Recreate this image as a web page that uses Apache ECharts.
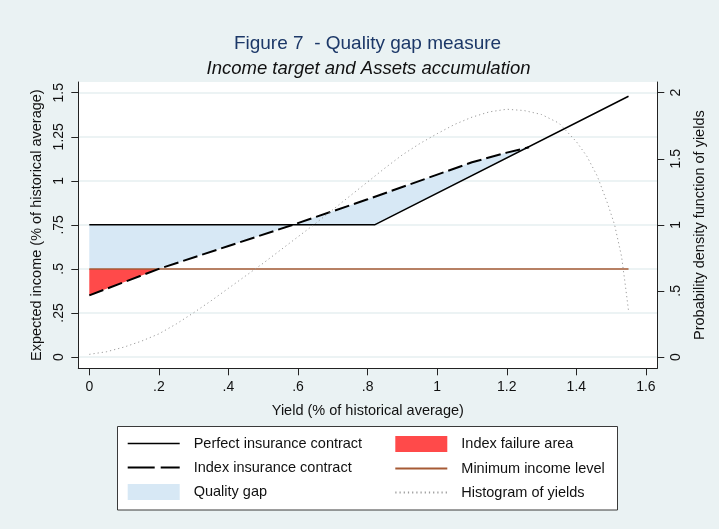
<!DOCTYPE html>
<html>
<head>
<meta charset="utf-8">
<script src="https://cdn.jsdelivr.net/npm/echarts@6/dist/echarts.min.js"></script>
<style>
html,body{margin:0;padding:0;background:#eaf2f3;}
#chart{width:719px;height:529px;}
</style>
</head>
<body>
<div id="chart"></div>
<script>
// ---------------- data ----------------
const perfectX = [0, 0.82, 1.55];
const perfectY = [0.75, 0.75, 1.48];

const indexX = [0, 0.2, 0.4, 0.585, 0.8, 1.0, 1.1, 1.2, 1.264];
const indexY = [0.35, 0.5, 0.63, 0.75, 0.895, 1.035, 1.105, 1.16, 1.19];

const minIncomeX = [0, 1.55];
const minIncomeY = [0.5, 0.5];

const histX = [0, 0.05, 0.1, 0.15, 0.2, 0.25, 0.3, 0.35, 0.4, 0.45, 0.5, 0.55, 0.6, 0.65, 0.7, 0.75,
  0.8, 0.85, 0.9, 0.95, 1.0, 1.05, 1.1, 1.15, 1.2, 1.25, 1.3, 1.35, 1.4, 1.43, 1.46, 1.49, 1.51, 1.53, 1.54, 1.55];
const histY = [0.02, 0.04, 0.075, 0.12, 0.175, 0.25, 0.335, 0.425, 0.52, 0.615, 0.71, 0.81, 0.91, 1.01, 1.115, 1.22,
  1.325, 1.43, 1.53, 1.615, 1.69, 1.76, 1.815, 1.855, 1.875, 1.865, 1.835, 1.77, 1.63, 1.52, 1.37, 1.16, 1.0, 0.76, 0.56, 0.35];

const xTicks = [0, 0.2, 0.4, 0.6, 0.8, 1, 1.2, 1.4, 1.6];
const xTickLabels = ['0', '.2', '.4', '.6', '.8', '1', '1.2', '1.4', '1.6'];
const yLeftTicks = [0, 0.25, 0.5, 0.75, 1, 1.25, 1.5];
const yLeftTickLabels = ['0', '.25', '.5', '.75', '1', '1.25', '1.5'];
const yRightTicks = [0, 0.5, 1, 1.5, 2];
const yRightTickLabels = ['0', '.5', '1', '1.5', '2'];

// ---------------- helpers ----------------
function interp(xs, ys, x) {
  if (x <= xs[0]) return ys[0];
  for (let i = 1; i < xs.length; i++) {
    if (x <= xs[i]) {
      const t = (x - xs[i - 1]) / (xs[i] - xs[i - 1]);
      return ys[i - 1] + t * (ys[i] - ys[i - 1]);
    }
  }
  return ys[ys.length - 1];
}
const fPerfect = x => interp(perfectX, perfectY, x);
const fIndex = x => interp(indexX, indexY, x);
const minLevel = minIncomeY[0];
const xEnd = indexX[indexX.length - 1];
const breaks = Array.from(new Set(indexX.concat(perfectX.filter(x => x <= xEnd)))).sort((a, b) => a - b);

function band(upperFn, lowerFn) {
  const up = breaks.map(x => [x, upperFn(x)]);
  const lo = breaks.slice().reverse().map(x => [x, lowerFn(x)]);
  return up.concat(lo);
}
// quality gap: between perfect and index, above minimum income level
const gapPoly = band(
  x => Math.max(fPerfect(x), fIndex(x)),
  x => Math.max(Math.min(fPerfect(x), fIndex(x)), minLevel)
);
// index failure: index below minimum income level
const failPoly = band(
  x => minLevel,
  x => Math.min(fIndex(x), minLevel)
);

const FONT = "'Liberation Sans', Arial, sans-serif";
const gapColor = '#d7e8f5';
const failColor = '#ff4a4a';
const minColor = '#a65a35';
const histColor = '#9c9c9c';

const chart = echarts.init(document.getElementById('chart'), null, {renderer: 'canvas'});

function lookup(ticks, labels) {
  return v => {
    for (let i = 0; i < ticks.length; i++) if (Math.abs(ticks[i] - v) < 1e-9) return labels[i];
    return '';
  };
}

const legendText = {fontSize: 14.5, color: '#111', fontFamily: FONT, padding: [0, 0, 0, 9]};
const noSymbol = {opacity: 0};

const option = {
  animation: false,
  backgroundColor: '#eaf2f3',
  textStyle: {fontFamily: FONT},
  title: [
    {
      text: 'Figure 7  - Quality gap measure',
      left: 362.5, top: 29, textAlign: 'center',
      textStyle: {fontSize: 19, fontWeight: 'normal', color: '#1c3868', fontFamily: FONT}
    },
    {
      text: 'Income target and Assets accumulation',
      left: 363.5, top: 54, textAlign: 'center',
      textStyle: {fontSize: 18.5, fontWeight: 'normal', fontStyle: 'italic', color: '#111', fontFamily: FONT}
    }
  ],
  grid: {
    left: 78.3, right: 61.7, top: 82, bottom: 160.7,
    show: true, backgroundColor: '#ffffff', borderWidth: 0
  },
  graphic: [
    {
      type: 'rect', z: 0,
      shape: {x: 117.5, y: 426.5, width: 500, height: 83.5},
      style: {fill: '#ffffff', stroke: '#3a3a3a', lineWidth: 1}
    }
  ],
  legend: [
    {
      orient: 'vertical', left: 121.7, top: 431, z: 5,
      itemWidth: 52, itemHeight: 16, itemGap: 9, selectedMode: false,
      textStyle: legendText,
      data: [
        {name: 'Perfect insurance contract', itemStyle: noSymbol, lineStyle: {width: 1.5}},
        {name: 'Index insurance contract', itemStyle: noSymbol, lineStyle: {type: [27, 6], width: 2}},
        {name: 'Quality gap', icon: 'rect', itemStyle: {color: gapColor}}
      ]
    },
    {
      orient: 'vertical', left: 389.3, top: 431, z: 5,
      itemWidth: 52, itemHeight: 16, itemGap: 9, selectedMode: false,
      textStyle: legendText,
      data: [
        {name: 'Index failure area', icon: 'rect', itemStyle: {color: failColor}},
        {name: 'Minimum income level', itemStyle: noSymbol},
        {name: 'Histogram of yields', itemStyle: noSymbol}
      ]
    }
  ],
  xAxis: {
    type: 'value', min: -0.0316, max: 1.6327,
    name: 'Yield (% of historical average)', nameLocation: 'middle', nameGap: 35,
    nameTextStyle: {fontSize: 14.5, color: '#111', fontFamily: FONT},
    axisLine: {show: true, onZero: false, lineStyle: {color: '#222', width: 1}},
    axisTick: {show: true, length: 7, customValues: xTicks, lineStyle: {color: '#222'}},
    axisLabel: {customValues: xTicks, formatter: lookup(xTicks, xTickLabels), margin: 12, fontSize: 14, color: '#111', fontFamily: FONT},
    splitLine: {show: false}
  },
  yAxis: [
    {
      type: 'value', min: -0.0642, max: 1.5608, position: 'left',
      name: 'Expected income (% of historical average)', nameLocation: 'middle', nameGap: 34,
      nameTextStyle: {fontSize: 14.5, color: '#111', fontFamily: FONT},
      axisLine: {show: true, onZero: false, lineStyle: {color: '#222', width: 1}},
      axisTick: {show: true, length: 7, customValues: yLeftTicks, lineStyle: {color: '#222'}},
      axisLabel: {customValues: yLeftTicks, formatter: lookup(yLeftTicks, yLeftTickLabels), rotate: 90, margin: 12, fontSize: 14, color: '#111', fontFamily: FONT},
      splitLine: {show: true, lineStyle: {color: '#e6eff1', width: 1.5}}
    },
    {
      type: 'value', min: -0.0856, max: 2.0811, position: 'right', alignTicks: false,
      name: 'Probability density function of yields', nameLocation: 'middle', nameGap: 35,
      nameTextStyle: {fontSize: 14.5, color: '#111', fontFamily: FONT},
      axisLine: {show: true, onZero: false, lineStyle: {color: '#222', width: 1}},
      axisTick: {show: true, length: 7, customValues: yRightTicks, lineStyle: {color: '#222'}},
      axisLabel: {customValues: yRightTicks, formatter: lookup(yRightTicks, yRightTickLabels), rotate: 90, margin: 12, fontSize: 14, color: '#111', fontFamily: FONT},
      splitLine: {show: false}
    }
  ],
  series: [
    {
      type: 'custom', name: 'Quality gap', coordinateSystem: 'cartesian2d',
      xAxisIndex: 0, yAxisIndex: 0, silent: true, z: 1,
      itemStyle: {color: gapColor},
      data: [[0, 0]],
      renderItem: (params, api) => ({
        type: 'polygon',
        shape: {points: gapPoly.map(p => api.coord(p))},
        style: {fill: gapColor}
      })
    },
    {
      type: 'custom', name: 'Index failure area', coordinateSystem: 'cartesian2d',
      xAxisIndex: 0, yAxisIndex: 0, silent: true, z: 1,
      itemStyle: {color: failColor},
      data: [[0, 0]],
      renderItem: (params, api) => ({
        type: 'polygon',
        shape: {points: failPoly.map(p => api.coord(p))},
        style: {fill: failColor}
      })
    },
    {
      type: 'line', name: 'Minimum income level', z: 3,
      data: minIncomeX.map((x, i) => [x, minIncomeY[i]]),
      symbol: 'none', color: minColor,
      lineStyle: {color: minColor, width: 1.5}
    },
    {
      type: 'line', name: 'Perfect insurance contract', z: 4,
      data: perfectX.map((x, i) => [x, perfectY[i]]),
      symbol: 'none', color: '#000',
      lineStyle: {color: '#000', width: 1.5}
    },
    {
      type: 'line', name: 'Index insurance contract', z: 4,
      data: indexX.map((x, i) => [x, indexY[i]]),
      symbol: 'none', color: '#000',
      lineStyle: {color: '#000', width: 2, type: [15, 5]}
    },
    {
      type: 'line', name: 'Histogram of yields', yAxisIndex: 1, z: 5,
      data: histX.map((x, i) => [x, histY[i]]),
      symbol: 'none', color: histColor,
      lineStyle: {color: histColor, width: 1, type: [1.2, 3]}
    }
  ]
};
chart.setOption(option);
</script>
</body>
</html>
